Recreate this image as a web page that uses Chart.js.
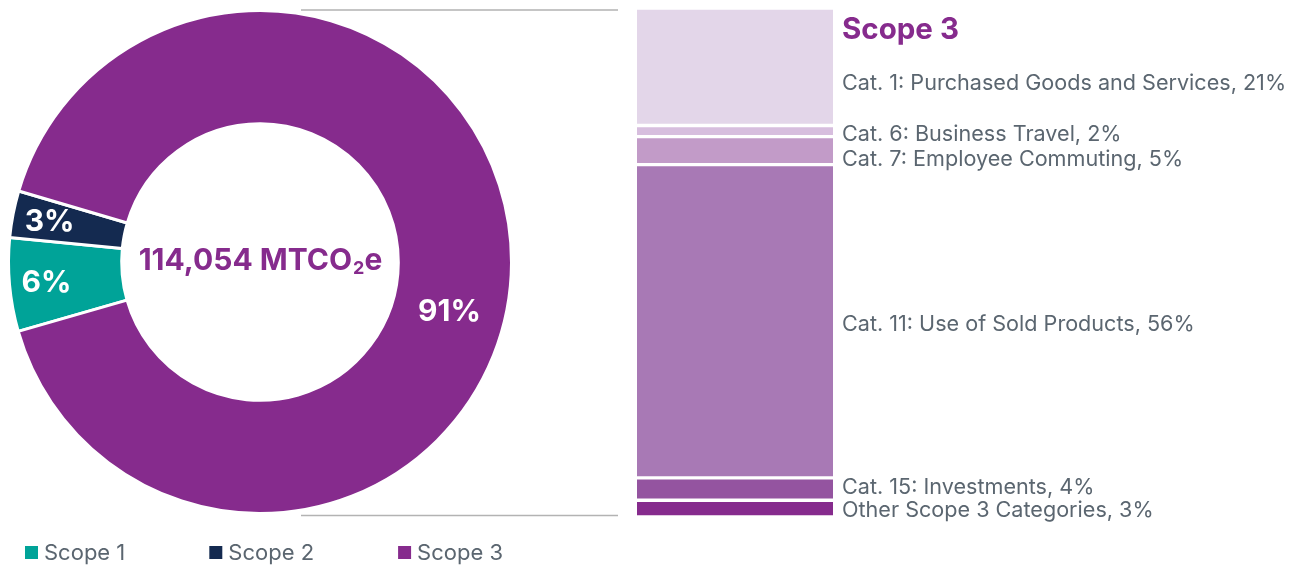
<!DOCTYPE html>
<html>
<head>
<meta charset="utf-8">
<script src="https://cdn.jsdelivr.net/npm/chart.js@4.4.1/dist/chart.umd.min.js"></script>
<style>
  html, body { margin: 0; padding: 0; background: #fff; }
  #wrap { position: relative; width: 1299px; height: 567px; }
  #donut { position: absolute; left: 0; top: 0; }
  #stack { position: absolute; left: 620px; top: 0; }
</style>
</head>
<body>
<div id="wrap">
  <canvas id="donut" width="620" height="567"></canvas>
  <canvas id="stack" width="679" height="567"></canvas>
</div>
<script>
const scopeLabels = ["Scope 1", "Scope 2", "Scope 3"];
const scopeShares = [6, 3, 91];
const scopeColors = ["#00a398", "#142a50", "#862b8d"];
const totalValue = "114,054";

const catLabels = [
  "Cat. 1: Purchased Goods and Services",
  "Cat. 6: Business Travel",
  "Cat. 7: Employee Commuting",
  "Cat. 11: Use of Sold Products",
  "Cat. 15: Investments",
  "Other Scope 3 Categories",
];
const catShares = [21, 2, 5, 56, 4, 3];
const catColors = ["#e3d6e9", "#d7bede", "#c29bc8", "#a879b5", "#9454a0", "#862b8d"];

const FONT = "Inter, 'Open Sans', sans-serif";
const GREY = "#5b6670";
const PURPLE = scopeColors[2];

// labels on the ring, centre total, connector lines, legend
const donutExtras = {
  id: "donutExtras",
  afterDatasetsDraw(chart) {
    const ctx = chart.ctx;
    const meta = chart.getDatasetMeta(0);
    const frac = [0.69, 0.69, 0.49];
    const shift = [0, 0, 14.4];
    ctx.save();
    ctx.fillStyle = "#fff";
    ctx.font = "bold 30px " + FONT;
    ctx.textAlign = "center";
    ctx.textBaseline = "middle";
    let cx = 0, cy = 0, outer = 0;
    meta.data.forEach((arc, i) => {
      const p = arc.getProps(["x", "y", "startAngle", "endAngle", "innerRadius", "outerRadius"], true);
      cx = p.x; cy = p.y; outer = p.outerRadius;
      const a = (p.startAngle + p.endAngle) / 2 + shift[i] * Math.PI / 180;
      const r = p.innerRadius + (p.outerRadius - p.innerRadius) * frac[i];
      ctx.fillText(scopeShares[i] + "%", cx + Math.cos(a) * r + 2, cy + Math.sin(a) * r + 1);
    });

    // centre total with subscript 2
    ctx.fillStyle = PURPLE;
    const big = "bold 30px " + FONT, small = "bold 18px " + FONT;
    const p1 = totalValue + " MTCO", p2 = "2", p3 = "e";
    ctx.font = big; const w1 = ctx.measureText(p1).width, w3 = ctx.measureText(p3).width;
    ctx.font = small; const w2 = ctx.measureText(p2).width;
    let x = cx - (w1 + w2 + w3) / 2;
    ctx.textAlign = "left";
    ctx.font = big; ctx.fillText(p1, x, cy - 1);
    ctx.font = small; ctx.fillText(p2, x + w1 + 1, cy + 7);
    ctx.font = big; ctx.fillText(p3, x + w1 + w2 + 1, cy - 1);

    // connector lines toward the stacked bar
    ctx.strokeStyle = "#b3b3b3";
    ctx.lineWidth = 1.5;
    ctx.beginPath();
    ctx.moveTo(cx + 41, cy - outer - 0.5); ctx.lineTo(chart.width - 2, cy - outer - 0.5);
    ctx.moveTo(cx + 41, cy + outer + 2); ctx.lineTo(chart.width - 2, cy + outer + 2);
    ctx.stroke();

    // legend
    ctx.font = "22px " + FONT;
    ctx.textBaseline = "middle";
    let lx = 25;
    const ly = 553;
    scopeLabels.forEach((lab, i) => {
      ctx.fillStyle = scopeColors[i];
      ctx.fillRect(lx, ly - 7, 13, 13);
      ctx.fillStyle = GREY;
      ctx.fillText(lab, lx + 19, ly);
      lx += 19 + ctx.measureText(lab).width + 84;
    });
    ctx.restore();
  },
};

new Chart(document.getElementById("donut"), {
  type: "doughnut",
  data: {
    labels: scopeLabels,
    datasets: [{
      data: scopeShares,
      backgroundColor: scopeColors,
      borderColor: "#fff",
      borderWidth: 3,
      hoverOffset: 0,
    }],
  },
  options: {
    responsive: false,
    animation: false,
    rotation: 254,
    cutout: "55%",
    layout: { padding: { left: 7, top: 9, right: 107, bottom: 52 } },
    plugins: { legend: { display: false }, tooltip: { enabled: false } },
  },
  plugins: [donutExtras],
});

// category labels to the right of the stacked bar
const stackLabels = {
  id: "stackLabels",
  afterDatasetsDraw(chart) {
    const ctx = chart.ctx;
    const ca = chart.chartArea;
    const x = ca.right + 9;
    ctx.save();
    ctx.textAlign = "left";
    ctx.textBaseline = "middle";
    ctx.fillStyle = PURPLE;
    ctx.font = "bold 29.5px " + FONT;
    ctx.fillText(scopeLabels[2], x, ca.top + 22);
    const titleBottom = ca.top + 28;
    const gap = 25;
    const ys = chart.data.datasets.map((d, i) => {
      const bar = chart.getDatasetMeta(i).data[0];
      let top = Math.min(bar.y, bar.base);
      const bot = Math.max(bar.y, bar.base);
      if (i === 0) top = Math.max(top, titleBottom);
      return (top + bot) / 2 + 3;
    });
    for (let i = 1; i < ys.length; i++) ys[i] = Math.max(ys[i], ys[i - 1] + gap);
    ys[ys.length - 1] = Math.min(ys[ys.length - 1], ca.bottom - 7);
    for (let i = ys.length - 2; i >= 0; i--) ys[i] = Math.min(ys[i], ys[i + 1] - gap + 2);
    ctx.fillStyle = GREY;
    ctx.font = "21.6px " + FONT;
    catLabels.forEach((lab, i) => ctx.fillText(lab + ", " + catShares[i] + "%", x, ys[i]));
    ctx.restore();
  },
};

new Chart(document.getElementById("stack"), {
  type: "bar",
  data: {
    labels: [scopeLabels[2]],
    datasets: catLabels.map((lab, i) => ({
      label: lab,
      data: [catShares[i]],
      backgroundColor: catColors[i],
      borderColor: "#fff",
      borderWidth: { top: 2, bottom: 2, left: 0, right: 0 },
      borderSkipped: false,
      barPercentage: 1,
      categoryPercentage: 1,
    })),
  },
  options: {
    responsive: false,
    animation: false,
    layout: { padding: { left: 17, top: 8, right: 466, bottom: 50 } },
    scales: {
      x: { display: false, stacked: true },
      y: { display: false, stacked: true, reverse: true, min: 0, max: catShares.reduce((a, b) => a + b, 0) },
    },
    plugins: { legend: { display: false }, tooltip: { enabled: false } },
  },
  plugins: [stackLabels],
});
</script>
</body>
</html>
